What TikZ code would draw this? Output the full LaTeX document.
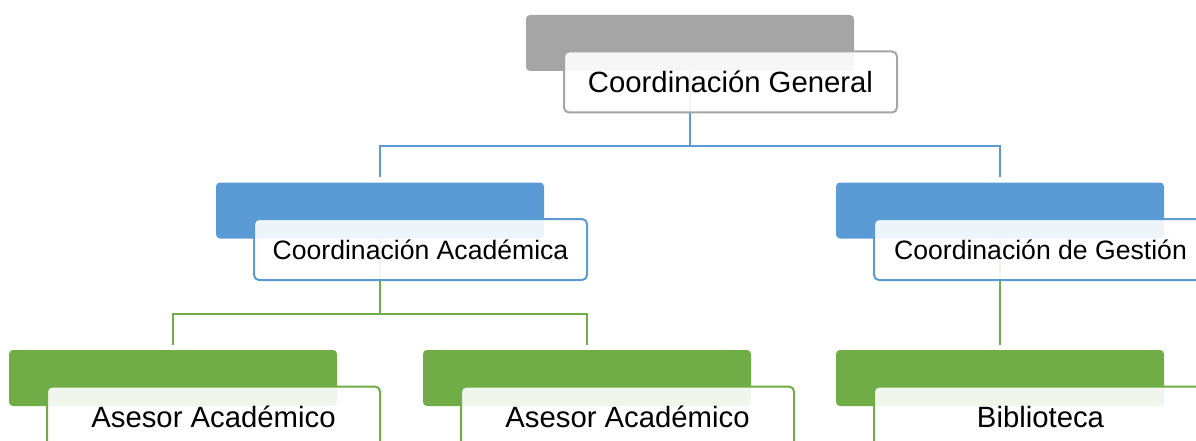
\documentclass[tikz,border=0pt]{standalone}
\usepackage{fontspec}
\setmainfont{Liberation Sans}
\definecolor{gris}{HTML}{A5A5A5}
\definecolor{azul}{HTML}{5B9BD5}
\definecolor{verde}{HTML}{70AD47}
\begin{document}
\begin{tikzpicture}[node distance=167.5pt, auto]

\tikzstyle{every node}=[font=\fontsize{29.3}{35}\selectfont]
\tikzstyle{fondo} = [rectangle, rounded corners=4pt, inner sep=0pt, minimum width=328pt, minimum height=56pt]
\tikzstyle{frente} = [rectangle, draw, line width=2pt, rounded corners=5pt, fill=white, fill opacity=0.9, text opacity=1, text centered, inner sep=0pt, minimum width=333pt, minimum height=61pt, xshift=40.5pt, yshift=-39pt]
\tikzstyle{menor} = [font=\fontsize{26.6}{32}\selectfont]
\tikzstyle{linea} = [line width=2pt, shorten >=5pt]

\clip (0,0) rectangle (1196pt,-441pt);

% Nodos (fondo)
\node[fondo, fill=gris] (cgfondo) at (690pt,-43pt) {};
\node[fondo, fill=azul, below of=cgfondo, xshift=-310pt] (cafondo) {};
\node[fondo, fill=azul, below of=cgfondo, xshift=310pt] (cgefondo) {};
\node[fondo, fill=verde, below of=cafondo, xshift=-207pt] (aa1fondo) {};
\node[fondo, fill=verde, below of=cafondo, xshift=207pt] (aa2fondo) {};
\node[fondo, fill=verde, below of=cgefondo] (bibfondo) {};

% Lines
\draw[linea, azul] (cgfondo.south) -- ++(0,-75pt) -| (cafondo.north);
\draw[linea, azul] (cgfondo.south) -- ++(0,-75pt) -| (cgefondo.north);
\draw[linea, verde] (cafondo.south) -- ++(0,-75pt) -| (aa1fondo.north);
\draw[linea, verde] (cafondo.south) -- ++(0,-75pt) -| (aa2fondo.north);
\draw[linea, verde] (cgefondo.south) -- (bibfondo.north);

% Nodos (frente)
\node[frente, draw=gris] (cg) at (cgfondo) {Coordinación General};
\node[frente, menor, draw=azul] (ca) at (cafondo) {Coordinación Académica};
\node[frente, menor, draw=azul] (cge) at (cgefondo) {Coordinación de Gestión};
\node[frente, draw=verde] (aa1) at (aa1fondo) {Asesor Académico};
\node[frente, draw=verde] (aa2) at (aa2fondo) {Asesor Académico};
\node[frente, draw=verde] (bib) at (bibfondo) {Biblioteca};

\end{tikzpicture}
\end{document}
